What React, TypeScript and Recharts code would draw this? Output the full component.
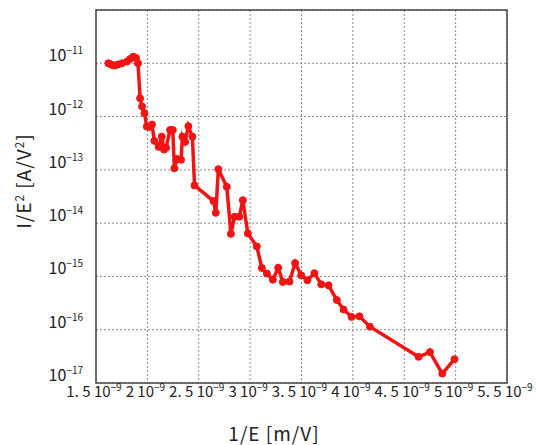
import { LineChart, Line, XAxis, YAxis, CartesianGrid, ReferenceArea } from 'recharts';

// 1/E [m/V]
const invField = [
  1.62e-9, 1.636e-9, 1.656e-9, 1.685e-9, 1.714e-9, 1.753e-9, 1.802e-9, 1.831e-9, 1.863e-9, 1.89e-9, 1.909e-9,
  1.929e-9, 1.948e-9, 1.972e-9, 1.994e-9, 2.016e-9, 2.045e-9, 2.068e-9, 2.109e-9, 2.14e-9, 2.162e-9,
  2.182e-9, 2.221e-9, 2.247e-9, 2.263e-9, 2.289e-9, 2.328e-9, 2.341e-9, 2.367e-9, 2.399e-9, 2.438e-9,
  2.459e-9, 2.643e-9, 2.666e-9, 2.691e-9, 2.773e-9, 2.813e-9, 2.849e-9, 2.895e-9, 2.929e-9, 2.978e-9,
  3.065e-9, 3.114e-9, 3.163e-9, 3.221e-9, 3.273e-9, 3.318e-9, 3.383e-9, 3.438e-9, 3.497e-9, 3.558e-9,
  3.626e-9, 3.692e-9, 3.763e-9, 3.844e-9, 3.909e-9, 3.987e-9, 4.064e-9, 4.166e-9, 4.639e-9, 4.75e-9,
  4.87e-9, 4.989e-9,
];

// I/E^2 [A/V^2]
const currentRatio = [
  1.0e-11, 9.7e-12, 9.3e-12, 9.1e-12, 9.5e-12, 1.0e-11, 1.08e-11, 1.2e-11, 1.33e-11, 1.26e-11, 1.0e-11,
  2.2e-12, 1.55e-12, 1.16e-12, 6.5e-13, 6.4e-13, 7.1e-13, 3.5e-13, 2.7e-13, 4.2e-13, 2.4e-13,
  2.6e-13, 5.6e-13, 5.6e-13, 1.07e-13, 1.6e-13, 1.55e-13, 4.2e-13, 3.35e-13, 6.6e-13, 4.2e-13,
  5.1e-14, 2.6e-14, 1.56e-14, 1.03e-13, 4.8e-14, 6.3e-15, 1.32e-14, 1.32e-14, 2.7e-14, 6.4e-15,
  3.65e-15, 1.44e-15, 1.13e-15, 8.7e-16, 1.45e-15, 7.9e-16, 8.0e-16, 1.78e-15, 1.05e-15, 8.5e-16,
  1.15e-15, 7.1e-16, 6.8e-16, 3.6e-16, 2.4e-16, 1.74e-16, 1.78e-16, 1.14e-16, 3.1e-17, 3.8e-17,
  1.5e-17, 2.8e-17,
];

const xTicks = [1.5e-9, 2e-9, 2.5e-9, 3e-9, 3.5e-9, 4e-9, 4.5e-9, 5e-9, 5.5e-9];
const yTicks = [1e-17, 1e-16, 1e-15, 1e-14, 1e-13, 1e-12, 1e-11];

const data = invField.map((x, i) => ({ x, y: currentRatio[i] }));

const FONT = "'Noto Sans CJK JP', sans-serif";
const RED = '#f01414';

const XTick = ({ x, y, payload }: any) => {
  const mant = String(Math.round(payload.value / 1e-10) / 10).replace('.', '. ');
  return (
    <text x={x - 2} y={y + 14} textAnchor="middle" fontSize={15} fill="#222" fontFamily={FONT}>
      {mant} 10<tspan dy={-6} fontSize={10}>−9</tspan>
    </text>
  );
};

const YTick = ({ x, y, payload }: any) => {
  const exp = Math.round(Math.log10(payload.value));
  return (
    <text x={x - 13} y={y - 2} textAnchor="end" fontSize={16} fill="#222" fontFamily={FONT}>
      10<tspan dy={-7} fontSize={10}>−{Math.abs(exp)}</tspan>
    </text>
  );
};

export default function App() {
  return (
    <div style={{ position: 'absolute', left: 0, top: 0, width: 537, height: 445, background: '#fff' }}>
      <LineChart width={537} height={445} data={data} margin={{ top: 10, right: 30, left: 16, bottom: 32 }}>
        <CartesianGrid stroke="#888" strokeDasharray="2 2" />
        <XAxis
          dataKey="x"
          type="number"
          domain={[1.5e-9, 5.5e-9]}
          ticks={xTicks}
          tick={<XTick />}
          tickLine={false}
          axisLine={false}
          tickSize={0}
          tickMargin={0}
          height={30}
          interval={0}
          allowDataOverflow
        />
        <YAxis
          type="number"
          scale="log"
          domain={[1e-17, 1e-10]}
          ticks={yTicks}
          tick={<YTick />}
          tickLine={false}
          axisLine={false}
          tickSize={0}
          tickMargin={0}
          width={80}
          interval={0}
          allowDataOverflow
        />
        <ReferenceArea
          x1={1.5e-9}
          x2={5.5e-9}
          y1={1e-17}
          y2={1e-10}
          fill="none"
          fillOpacity={0}
          stroke="#444"
          strokeWidth={1.5}
          ifOverflow="visible"
        />
        <Line
          dataKey="y"
          type="linear"
          stroke={RED}
          strokeWidth={3.5}
          dot={{ r: 3.5, fill: RED, stroke: RED, strokeWidth: 1 }}
          isAnimationActive={false}
        />
      </LineChart>
      <svg width={537} height={445} style={{ position: 'absolute', left: 0, top: 0, pointerEvents: 'none' }}>
        <text x={274} y={441} textAnchor="middle" fontSize={19} letterSpacing={1} fill="#222" fontFamily={FONT}>
          1/E [m/V]
        </text>
        <text
          x={25}
          y={187}
          transform="rotate(-90, 25, 181)"
          textAnchor="middle"
          fontSize={19}
          letterSpacing={1}
          fill="#222"
          fontFamily={FONT}
        >
          I/E<tspan dy={-7} fontSize={12}>2</tspan>
          <tspan dy={7}> [A/V</tspan>
          <tspan dy={-7} fontSize={12}>2</tspan>
          <tspan dy={7}>]</tspan>
        </text>
      </svg>
    </div>
  );
}
